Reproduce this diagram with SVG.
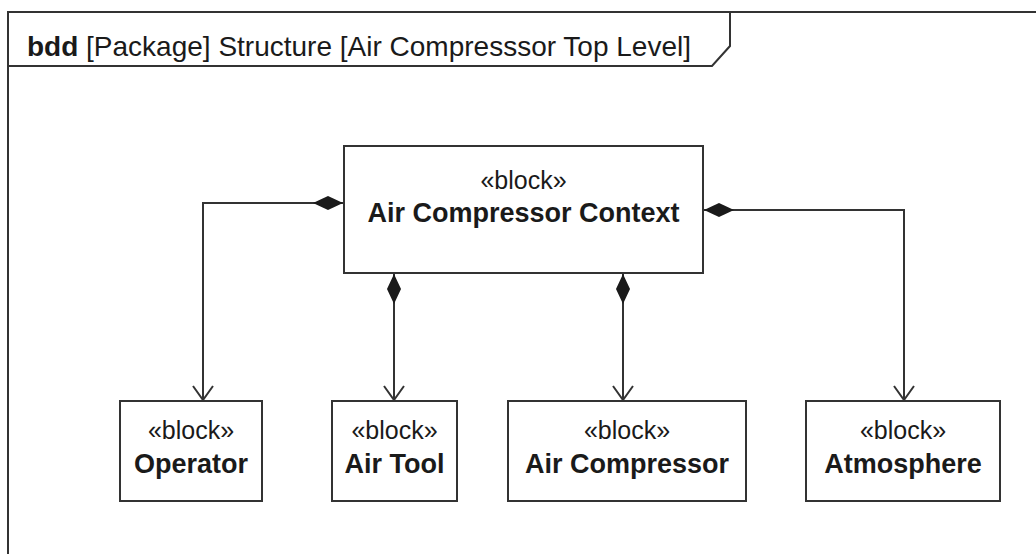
<svg xmlns="http://www.w3.org/2000/svg" width="1036" height="554" viewBox="0 0 1036 554">
<style>
.ln{fill:none;stroke:#333;stroke-width:2}
.box{fill:#fff;stroke:#333;stroke-width:2}
.st{font-family:"Liberation Sans",Arial,sans-serif;font-size:25px;fill:#1a1a1a;text-anchor:middle}
.nm{font-family:"Liberation Sans",Arial,sans-serif;font-size:27px;font-weight:bold;fill:#1a1a1a;text-anchor:middle}
.tt{font-family:"Liberation Sans",Arial,sans-serif;font-size:28px;fill:#1a1a1a}
</style>
<defs>
<marker id="dia" viewBox="0 0 30 14" refX="0" refY="7" markerWidth="30" markerHeight="14" markerUnits="userSpaceOnUse" orient="auto">
<path d="M0,7 L15,0 L30,7 L15,14 Z" fill="#1a1a1a"/>
</marker>
<marker id="arr" viewBox="0 0 16 24" refX="15" refY="12" markerWidth="16" markerHeight="24" markerUnits="userSpaceOnUse" orient="auto">
<path d="M1,2 L15,12 L1,22" fill="none" stroke="#333" stroke-width="2"/>
</marker>
</defs>
<rect width="1036" height="554" fill="#fff"/>
<g id="frame">
<path class="ln" d="M8,560 L8,12 L1040,12"/>
<path class="ln" d="M8,66 L712,66 L730,46 L730,12"/>
<text class="tt" x="27" y="56"><tspan font-weight="bold">bdd</tspan> [Package] Structure [Air Compresssor Top Level]</text>
</g>
<g id="connectors">
<path class="ln" d="M343,203 L203,203 L203,400" marker-start="url(#dia)" marker-end="url(#arr)"/>
<path class="ln" d="M394,274 L394,400" marker-start="url(#dia)" marker-end="url(#arr)"/>
<path class="ln" d="M623,274 L623,400" marker-start="url(#dia)" marker-end="url(#arr)"/>
<path class="ln" d="M704,210 L904,210 L904,400" marker-start="url(#dia)" marker-end="url(#arr)"/>
</g>
<g id="context">
<rect class="box" x="344" y="146" width="359" height="127"/>
<text class="st" x="523.5" y="189">«block»</text>
<text class="nm" x="523.5" y="222">Air Compressor Context</text>
</g>
<g id="operator">
<rect class="box" x="120" y="401" width="142" height="100"/>
<text class="st" x="191" y="439">«block»</text>
<text class="nm" x="191" y="473">Operator</text>
</g>
<g id="airtool">
<rect class="box" x="332" y="401" width="125" height="100"/>
<text class="st" x="394.5" y="439">«block»</text>
<text class="nm" x="394.5" y="473">Air Tool</text>
</g>
<g id="aircompressor">
<rect class="box" x="508" y="401" width="238" height="100"/>
<text class="st" x="627" y="439">«block»</text>
<text class="nm" x="627" y="473">Air Compressor</text>
</g>
<g id="atmosphere">
<rect class="box" x="806" y="401" width="194" height="100"/>
<text class="st" x="903" y="439">«block»</text>
<text class="nm" x="903" y="473">Atmosphere</text>
</g>
</svg>
